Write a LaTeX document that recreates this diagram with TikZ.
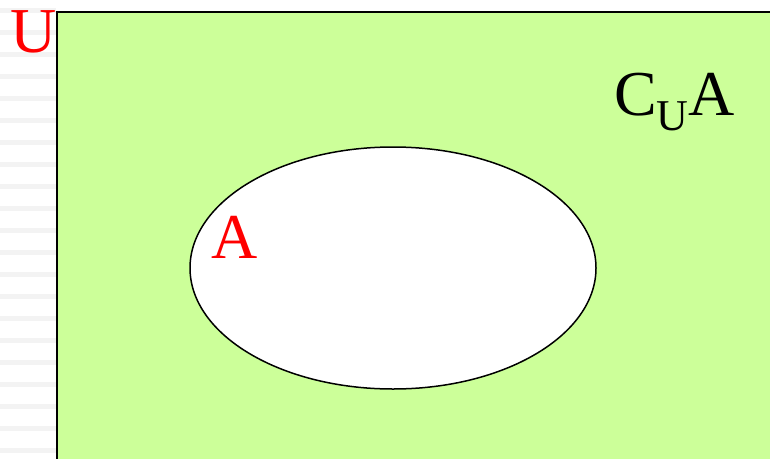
\documentclass[tikz,border=0pt]{standalone}
\usepackage{fontspec}
\setmainfont{Liberation Serif}
\usetikzlibrary{shapes.geometric}
\definecolor{venngreen}{HTML}{CCFF99}
\definecolor{stripegray}{HTML}{F3F3F3}
\tikzset{
  lbl/.style={inner sep=0pt, outer sep=0pt, anchor=base west, font=\fontsize{64}{64}\selectfont},
  setline/.style={draw=black, line width=2pt}
}
\begin{document}
\begin{tikzpicture}[x=1pt,y=-1pt]
\useasboundingbox (0,0) rectangle (770,458);
\begin{scope}
\clip (0,0) rectangle (770,458);
% faint background stripes
\foreach \k in {0,...,20} {
  \fill[stripegray] (0,8+22*\k) rectangle (56,13+22*\k);
}
% universe
\node[setline, fill=venngreen, rectangle, minimum width=740pt, minimum height=480pt, anchor=north west, inner sep=0pt] (U) at (56,11) {};
% set A
\node[draw=black, line width=1.5pt, fill=white, ellipse, minimum width=406pt, minimum height=242pt, inner sep=0pt] (A) at (393,268) {};
\end{scope}
\node[lbl, text=red] (ulabel) at (10,52) {U};
\node[lbl, text=red] (alabel) at (211,258) {A};
\node[lbl, text=black] (cua) at (614,115) {C\raisebox{-15pt}{\fontsize{44}{44}\selectfont U}A};
\end{tikzpicture}
\end{document}
